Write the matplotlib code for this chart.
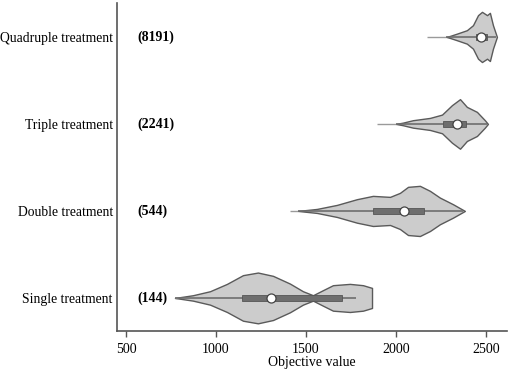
import numpy as np
import matplotlib
matplotlib.use("Agg")
import matplotlib.pyplot as plt

plt.rcParams["font.family"] = ["Liberation Serif", "DejaVu Serif"]

# ---------------- DATA ----------------
categories = ["Single treatment", "Double treatment", "Triple treatment", "Quadruple treatment"]
counts = ["(144)", "(544)", "(2241)", "(8191)"]

# density outline: objective value -> half width (in pixels of the original)
single_v = [772, 872, 967, 1061, 1150, 1233, 1317, 1411, 1483, 1539, 1594, 1650, 1744, 1817, 1867]
single_w = [0, 2.7, 6.7, 14, 22.7, 25.3, 22, 14.3, 6.7, 2.7, 7.7, 12.7, 14, 12.7, 10]

double_v = [1456, 1561, 1672, 1783, 1872, 1967, 2022, 2067, 2133, 2189, 2244, 2317, 2383]
double_w = [0, 2, 6, 11.7, 15, 14, 18, 24, 25, 20, 13.3, 6.7, 0]

triple_v = [2000, 2039, 2094, 2189, 2256, 2311, 2356, 2394, 2450, 2494, 2511]
triple_w = [0, 1.3, 3.7, 6, 9.3, 18.7, 24.7, 17, 12, 3.7, 0]

quad_v = [2280, 2300, 2339, 2394, 2428, 2456, 2478, 2506, 2522, 2539, 2561]
quad_w = [0, 1, 3.3, 6.7, 11.7, 21.7, 25, 21.7, 24, 11.7, 0]

# box statistics: whisker low, q1, median, q3, whisker high
single_box = [790, 1144, 1306, 1700, 1778]
double_box = [1411, 1872, 2044, 2156, 2375]
triple_box = [1894, 2261, 2339, 2389, 2505]
quad_box = [2172, 2444, 2472, 2506, 2558]

profiles = [(single_v, single_w), (double_v, double_w), (triple_v, triple_w), (quad_v, quad_w)]
boxes = [single_box, double_box, triple_box, quad_box]

PX_PER_UNIT = 86.7  # vertical pixels between two rows

fig = plt.figure(figsize=(5.10, 3.71), dpi=100)
ax = fig.add_axes([117 / 510, 40 / 371, 390 / 510, 328 / 371])

edge = "#5a5a5a"
box_col = "#6e6e6e"

for i, ((v, w), b) in enumerate(zip(profiles, boxes)):
    y = i + 1
    v = np.asarray(v, float)
    hw = np.asarray(w, float) / PX_PER_UNIT
    ax.fill_between(v, y - hw, y + hw, facecolor="#cccccc", edgecolor=edge, linewidth=1.0, zorder=2)
    # whiskers (tail part fainter, like the reference)
    ax.plot([b[0], v[0]], [y, y], color="#9a9a9a", lw=1.0, zorder=3, solid_capstyle="butt")
    ax.plot([v[0], b[4]], [y, y], color=box_col, lw=1.2, zorder=3, solid_capstyle="butt")
    # box
    ax.add_patch(plt.Rectangle((b[1], y - 0.03), b[3] - b[1], 0.06,
                               facecolor=box_col, edgecolor="#555555", lw=0.6, zorder=4))
    # median
    ax.plot(b[2], y, "o", ms=6.5, mfc="white", mec="#444444", mew=0.9, zorder=5)
    ax.text(565, y, counts[i], ha="left", va="center", fontsize=10, fontweight="bold", color="black")

ax.set_xlim(450, 2617)
ax.set_ylim(0.62, 4.39)
ax.set_xticks([500, 1000, 1500, 2000, 2500])
ax.set_yticks([1, 2, 3, 4])
ax.set_yticklabels(categories)
ax.tick_params(axis="y", length=0, pad=3, labelsize=9.8)
ax.tick_params(axis="x", length=4, width=1, color="#555555", labelsize=10, pad=4.5)
ax.set_xlabel("Objective value", fontsize=10, labelpad=0)

for s in ["top", "right"]:
    ax.spines[s].set_visible(False)
for s in ["left", "bottom"]:
    ax.spines[s].set_color("#555555")
    ax.spines[s].set_linewidth(1.2)

fig.savefig("out.png", dpi=100)
